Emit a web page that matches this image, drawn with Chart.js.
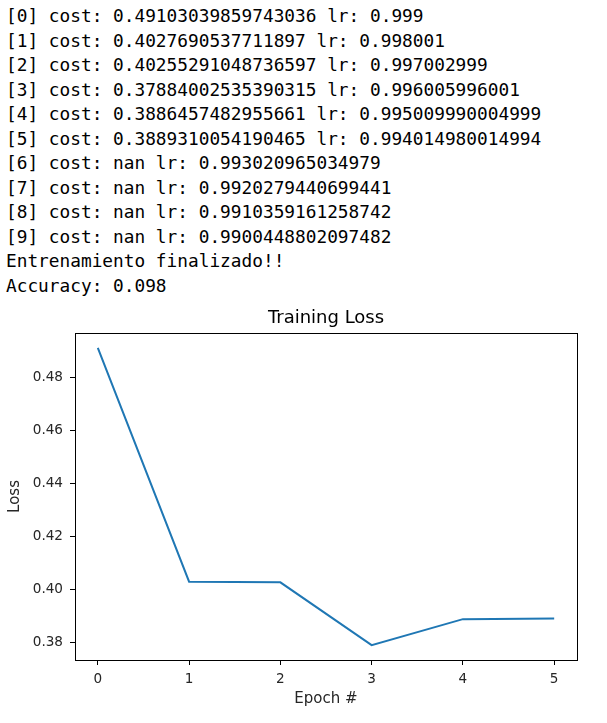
<!DOCTYPE html>
<html lang="en">
<head>
    <meta charset="UTF-8">
    <title>Training Loss</title>
    <script src="https://cdn.jsdelivr.net/npm/chart.js"></script>
    <style>
        body { margin: 0; background: #fff; width: 607px; height: 723px; overflow: hidden; position: relative; }
        #log {
            margin: 0;
            padding: 4px 0 0 6px;
            font-family: "DejaVu Sans Mono", "Liberation Mono", monospace;
            font-size: 17.8px;
            line-height: 24.5px;
            color: #000;
        }
        #chartBox { position: absolute; left: 0; top: 300px; width: 607px; height: 415px; }
    </style>
</head>
<body>
    <pre id="log"></pre>
    <div id="chartBox"><canvas id="lossChart"></canvas></div>
    <script>
        // console output of the training run
        const costLog = ['0.49103039859743036', '0.4027690537711897', '0.40255291048736597',
            '0.37884002535390315', '0.3886457482955661', '0.3889310054190465',
            'nan', 'nan', 'nan', 'nan'];
        const lrLog = ['0.999', '0.998001', '0.997002999', '0.996005996001', '0.995009990004999',
            '0.994014980014994', '0.993020965034979', '0.9920279440699441',
            '0.9910359161258742', '0.9900448802097482'];
        const accuracy = '0.098';

        // plotted values
        const epochs = [0, 1, 2, 3, 4, 5];
        const lossValues = [0.49103039859743036, 0.4027690537711897, 0.40255291048736597,
            0.37884002535390315, 0.3886457482955661, 0.3889310054190465];
        const xTicks = [0, 1, 2, 3, 4, 5];
        const yTicks = [0.38, 0.40, 0.42, 0.44, 0.46, 0.48];

        const lines = costLog.map((c, i) => `[${i}] cost: ${c} lr: ${lrLog[i]}`);
        lines.push('Entrenamiento finalizado!!');
        lines.push('Accuracy: ' + accuracy);
        document.getElementById('log').textContent = lines.join('\n');

        // matplotlib style 5% margins
        const yLo = Math.min(...lossValues), yHi = Math.max(...lossValues);
        const yPad = (yHi - yLo) * 0.05;

        // axes frame on all four sides, title centred over the plot area
        const boxPlugin = {
            id: 'box',
            afterLayout(chart) {
                if (chart.titleBlock) {
                    chart.titleBlock.left = chart.chartArea.left;
                    chart.titleBlock.right = chart.chartArea.right;
                }
            },
            afterDraw(chart) {
                const a = chart.chartArea, ctx = chart.ctx;
                ctx.save();
                ctx.strokeStyle = '#000';
                ctx.lineWidth = 1;
                ctx.strokeRect(Math.round(a.left) + 0.5, Math.round(a.top) + 0.5,
                    Math.round(a.right - a.left), Math.round(a.bottom - a.top));
                ctx.restore();
            }
        };

        const tickFont = { family: 'DejaVu Sans', size: 13.6 };
        const labelFont = { family: 'DejaVu Sans', size: 15 };

        new Chart(document.getElementById('lossChart'), {
            type: 'line',
            data: {
                datasets: [{
                    data: epochs.map((e, i) => ({ x: e, y: lossValues[i] })),
                    borderColor: '#1f77b4',
                    borderWidth: 2,
                    pointRadius: 0,
                    tension: 0,
                    fill: false
                }]
            },
            options: {
                responsive: true,
                maintainAspectRatio: false,
                animation: false,
                layout: { padding: { left: 0, right: 30, top: 0, bottom: 0 } },
                plugins: {
                    legend: { display: false },
                    tooltip: { enabled: false },
                    title: {
                        display: true,
                        text: 'Training Loss',
                        color: '#000',
                        font: { family: 'DejaVu Sans', size: 18, weight: 'normal' },
                        padding: { top: 8, bottom: 3.4 }
                    }
                },
                scales: {
                    x: {
                        type: 'linear',
                        min: -0.25,
                        max: 5.25,
                        afterBuildTicks: s => { s.ticks = xTicks.map(v => ({ value: v })); },
                        afterFit: s => { s.height = 55; },
                        grid: { drawOnChartArea: false, drawTicks: true, tickLength: 5, color: '#000' },
                        border: { display: false },
                        ticks: { color: '#262626', font: tickFont, padding: 6, maxRotation: 0 },
                        title: { display: true, text: 'Epoch #', color: '#262626', font: labelFont, padding: { top: 0, bottom: 7 } }
                    },
                    y: {
                        type: 'linear',
                        min: yLo - yPad,
                        max: yHi + yPad,
                        afterBuildTicks: s => { s.ticks = yTicks.map(v => ({ value: v })); },
                        afterFit: s => { s.width = 75; },
                        grid: { drawOnChartArea: false, drawTicks: true, tickLength: 5, color: '#000' },
                        border: { display: false },
                        ticks: { color: '#262626', font: tickFont, padding: 7, callback: v => v.toFixed(2) },
                        title: { display: true, text: 'Loss', color: '#262626', font: labelFont, padding: { top: 6, bottom: 0 } }
                    }
                }
            },
            plugins: [boxPlugin]
        });
    </script>
</body>
</html>
